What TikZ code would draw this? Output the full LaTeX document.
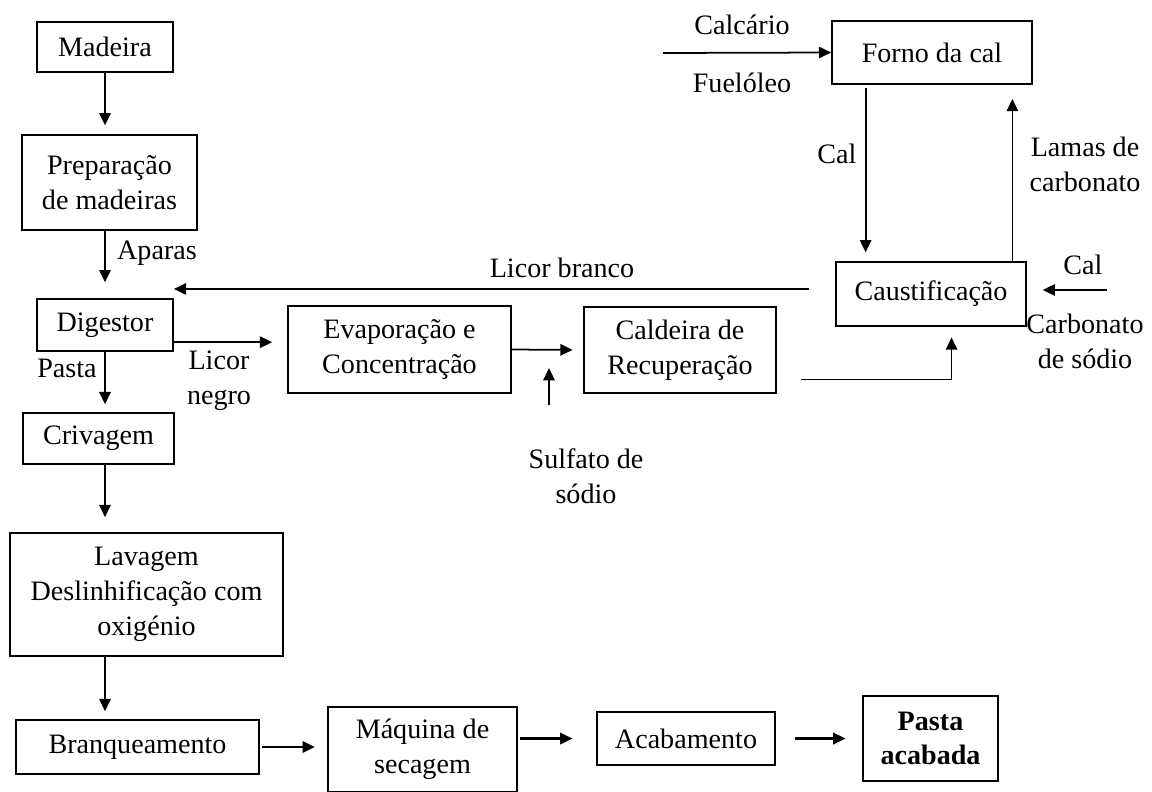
\documentclass[tikz,border=0pt]{standalone}
\usepackage{fontspec}
\setmainfont{Liberation Serif}
\usetikzlibrary{arrows.meta}

\begin{document}
\begin{tikzpicture}[x=0.02cm,y=-0.02cm,font=\fontsize{16}{19.8}\selectfont]
	\useasboundingbox (0,0) rectangle (1152,791);
	\coordinate (eixo) at (105,0);

	\begin{scope}[every node/.style={draw,line width=1pt,align=center,inner sep=0pt}]
		\node[minimum width=2.72cm,minimum height=1cm] (madeira) at (105,47) {Madeira};
		\node[minimum width=3.5cm,minimum height=1.9cm] (prep) at (109.5,182.5) {Preparação\\de madeiras};
		\node[minimum width=2.72cm,minimum height=1.04cm] (digestor) at (105,325) {Digestor};
		\node[minimum width=3.02cm,minimum height=1.02cm] (crivagem) at (98.5,438.5) {Crivagem};
		\node[minimum width=5.46cm,minimum height=2.46cm] (lavagem) at (146.5,594.5) {Lavagem\\Deslinhificação com\\oxigénio};
		\node[minimum width=4.86cm,minimum height=1.08cm] (branq) at (137.5,747) {Branqueamento};
		\node[minimum width=3.78cm,minimum height=1.7cm] (maquina) at (422.5,749.5) {Máquina de\\secagem};
		\node[minimum width=3.56cm,minimum height=1.06cm] (acabamento) at (686,738.5) {Acabamento};
		\node[minimum width=2.7cm,minimum height=1.7cm,font=\fontsize{16}{19.8}\selectfont\bfseries] (pasta) at (930.5,738.5) {Pasta\\acabada};
		\node[minimum width=4.46cm,minimum height=1.74cm] (evap) at (399.5,349.5) {Evaporação e\\Concentração};
		\node[minimum width=3.84cm,minimum height=1.72cm] (caldeira) at (680,350) {Caldeira de\\Recuperação};
		\node[minimum width=4cm,minimum height=1.26cm] (forno) at (932,52.5) {Forno da cal};
		\node[minimum width=3.8cm,minimum height=1.28cm] (caust) at (931,294) {Caustificação};
	\end{scope}

	% entradas e etiquetas
	\node (lblaparas) at (157,253) {Aparas};
	\node (lblpasta) at (67,368) {Pasta};
	\node[align=center] (lblnegro) at (219,381) {Licor\\negro};
	\node (lblbranco) at (562,268) {Licor branco};
	\node[align=center] (lblsulfato) at (586,476) {Sulfato de\\sódio};
	\node (lblcalcario) at (742,25) {Calcário};
	\node (lblfuel) at (742,83) {Fuelóleo};
	\node (lblcal) at (837,154) {Cal};
	\node[align=center] (lbllamas) at (1085,164) {Lamas de\\carbonato};
	\node (lblcal2) at (1083,265) {Cal};
	\node[align=center] (lblcarb) at (1085,341) {Carbonato\\de sódio};

	\coordinate (sulf1) at (549,405);
	\coordinate (sulf2) at (549,368);
	\coordinate (calc0) at (663,53);
	\coordinate (calin) at (1107,290);

	\begin{scope}[>={Triangle[length=7pt,width=6.5pt]},line width=1pt]
		\draw[->,shorten >=5pt] (madeira.south) -- (madeira.south |- prep.north);
		\draw[->,shorten >=9pt] (eixo |- prep.south) -- (eixo |- digestor.north);
		\draw[->,shorten >=4.5pt] (digestor.south) -- (eixo |- crivagem.north);
		\draw[->,shorten >=8.5pt] (eixo |- crivagem.south) -- (eixo |- lavagem.north);
		\draw[->,shorten >=4.5pt] (eixo |- lavagem.south) -- (eixo |- branq.north);
		\draw[->,line width=1.3pt,shorten <=1.5pt,shorten >=7pt] (branq.east) -- (maquina.west |- branq.east);
		\draw[->,line width=1.3pt,shorten <=1pt,shorten >=13.5pt] (maquina.east |- acabamento.west) -- (acabamento.west);
		\draw[->,line width=1.3pt,shorten <=11pt,shorten >=9.5pt] (acabamento.east) -- (pasta.west |- acabamento.east);

		\draw[->,shorten >=8.5pt] (digestor.-14) -- (digestor.-14 -| evap.west);
		\draw[->,shorten >=6pt] (evap.east) -- (caldeira.west);
		\draw[->] (sulf1) -- (sulf2);
		\draw[->,shorten <=13.5pt,shorten >=6pt] (caldeira.-17) -| (caust.-58);
		\draw[->,shorten <=15pt] (caust.177) -- (caust.177 -| digestor.east);

		\draw[->] (calc0) -- (forno.west);
		\draw[->,shorten <=2pt,shorten >=5pt] (forno.-154.5) -- (forno.-154.5 |- caust.north);
		\draw[->,shorten >=8pt] (caust.22.6) -- (caust.22.6 |- forno.south);
		\draw[->,shorten >=9pt] (calin) -- (calin -| caust.east);
	\end{scope}
\end{tikzpicture}
\end{document}
